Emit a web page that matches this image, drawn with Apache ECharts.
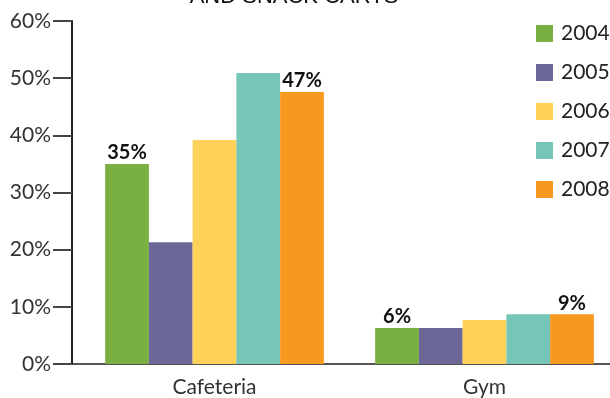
<!DOCTYPE html>
<html>
<head>
<meta charset="utf-8">
<script src="https://cdn.jsdelivr.net/npm/echarts@6/dist/echarts.min.js"></script>
<style>
  html, body { margin: 0; padding: 0; background: #fff; }
  #chart { width: 610px; height: 398px; }
</style>
</head>
<body>
<div id="chart"></div>
<script>
// 数据
const categories = ["Cafeteria", "Gym"];
const years = ["2004", "2005", "2006", "2007", "2008"];
const values = [
  [35, 6.3],   // 2004
  [21.3, 6.3], // 2005
  [39.2, 7.7], // 2006
  [50.9, 8.7], // 2007
  [47.6, 8.7], // 2008
];
// 柱顶标签（只有2004和2008有）
const barLabels = [
  ["35%", "6%"],
  ["", ""],
  ["", ""],
  ["", ""],
  ["47%", "9%"],
];
const colors = ["#7aaf41", "#6b6898", "#fed158", "#75c6b8", "#f7981f"];
const yTicks = [0, 10, 20, 30, 40, 50, 60];

const chart = echarts.init(document.getElementById("chart"));

const series = years.map((year, i) => ({
  name: year,
  type: "bar",
  barGap: "0%",
  barCategoryGap: "19%",
  itemStyle: { color: colors[i] },
  label: {
    show: true,
    position: "top",
    distance: 1,
    color: "#111",
    fontFamily: "Lato",
    fontWeight: "bold",
    fontSize: 20,
    formatter: (p) => barLabels[i][p.dataIndex],
  },
  data: values[i],
}));

chart.setOption({
  animation: false,
  title: {
    text: "AND SNACK CARTS",
    left: 289,
    textAlign: "center",
    top: -19,
    textStyle: {
      fontFamily: "Liberation Sans",
      fontWeight: "normal",
      fontSize: 22,
      color: "#111",
    },
  },
  legend: {
    orient: "vertical",
    left: 536,
    top: 23,
    padding: 0,
    itemWidth: 17,
    itemHeight: 17,
    itemGap: 18,
    icon: "rect",
    textStyle: {
      fontFamily: "Lato",
      fontSize: 21,
      lineHeight: 17,
      color: "#222",
      padding: [0, 0, 0, 3],
    },
    data: years,
  },
  grid: {
    left: 79.5,
    width: 540,
    top: 21,
    bottom: 34,
    containLabel: false,
    outerBoundsMode: "none",
  },
  xAxis: {
    type: "category",
    data: categories,
    axisLine: { lineStyle: { color: "#555", width: 2 } },
    axisTick: { show: false },
    axisLabel: {
      fontFamily: "Lato",
      fontSize: 21,
      color: "#333",
      margin: 13,
    },
  },
  yAxis: {
    type: "value",
    min: yTicks[0],
    max: yTicks[yTicks.length - 1],
    interval: 10,
    offset: 7.5,
    splitLine: { show: false },
    axisLine: { show: true, lineStyle: { color: "#222", width: 2 } },
    axisTick: { show: true, length: 19, lineStyle: { color: "#444", width: 2 } },
    axisLabel: {
      fontFamily: "Lato",
      fontSize: 21,
      color: "#333",
      margin: 21,
      formatter: "{value}%",
    },
  },
  graphic: [
    {
      type: "line",
      shape: { x1: 72, y1: 364, x2: 80, y2: 364 },
      style: { stroke: "#555", lineWidth: 2 },
    },
  ],
  series: series,
});
</script>
</body>
</html>
